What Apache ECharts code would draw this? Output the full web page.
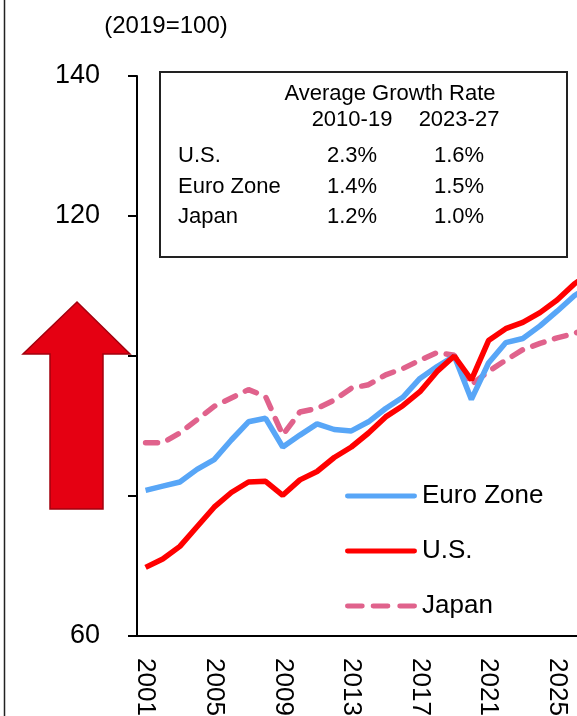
<!DOCTYPE html>
<html lang="en">
<head>
    <meta charset="utf-8" />
    <title>GDP index</title>
    <script src="https://cdn.jsdelivr.net/npm/echarts@6/dist/echarts.min.js"></script>
</head>
<body style="margin:0;background:#fff;overflow:hidden">
    <div id="container" style="width:577px;height:716px;"></div>
<script type="text/javascript">
    var years = [];
    for (var y = 2001; y <= 2027; y++) { years.push(String(y)); }

    var euroZone = [80.8, 81.4, 82.0, 83.8, 85.2, 88.0, 90.6, 91.1, 87.0, 88.7, 90.3, 89.5, 89.3, 90.6,
        92.5, 94.1, 96.8, 98.5, 100, 93.8, 99.0, 101.9, 102.5, 104.3, 106.4, 108.6, 110.2];
    var us = [69.8, 71.0, 72.8, 75.6, 78.4, 80.5, 82.0, 82.1, 80.1, 82.3, 83.5, 85.5, 87.0, 89.0,
        91.3, 92.9, 94.9, 97.8, 100, 96.6, 102.2, 103.9, 104.8, 106.2, 108.0, 110.3, 112.0];
    var japan = [87.6, 87.6, 89.0, 90.9, 92.8, 94.0, 95.2, 94.2, 88.7, 92.0, 92.5, 93.7, 95.4, 95.9,
        97.3, 98.2, 99.4, 100.5, 100.1, 95.9, 97.8, 99.4, 100.9, 101.8, 102.6, 103.2, 104.2];

    // growth-rate table
    var tableTitle = 'Average Growth Rate';
    var tablePeriods = ['2010-19', '2023-27'];
    var tableRows = ['U.S.', 'Euro Zone', 'Japan'];
    var rate1019 = ['2.3%', '1.4%', '1.2%'];
    var rate2327 = ['1.6%', '1.5%', '1.0%'];

    var font = '"Liberation Sans", Arial, sans-serif';

    var myChart = echarts.init(document.getElementById('container'));

    // table texts
    var tableEls = [{
        type: 'rect', shape: { x: 160, y: 72, width: 407, height: 185 },
        style: { fill: '#fff', stroke: '#222', lineWidth: 2 }
    }, {
        type: 'text', x: 390, y: 94,
        style: { text: tableTitle, font: '22px ' + font, fill: '#000', align: 'center', verticalAlign: 'middle' }
    }];
    var colX = [352, 459];
    var rowY = [156, 187, 217];
    tablePeriods.forEach(function (p, i) {
        tableEls.push({
            type: 'text', x: colX[i], y: 120,
            style: { text: p, font: '22px ' + font, fill: '#000', align: 'center', verticalAlign: 'middle' }
        });
    });
    tableRows.forEach(function (name, i) {
        tableEls.push({
            type: 'text', x: 178, y: rowY[i],
            style: { text: name, font: '22px ' + font, fill: '#000', align: 'left', verticalAlign: 'middle' }
        });
        tableEls.push({
            type: 'text', x: colX[0], y: rowY[i],
            style: { text: rate1019[i], font: '22px ' + font, fill: '#000', align: 'center', verticalAlign: 'middle' }
        });
        tableEls.push({
            type: 'text', x: colX[1], y: rowY[i],
            style: { text: rate2327[i], font: '22px ' + font, fill: '#000', align: 'center', verticalAlign: 'middle' }
        });
    });

    var solidIcon = 'path://M2,0H70A2,2 0 0 1 70,5H2A2,2 0 0 1 2,0Z';
    var dashIcon = 'path://M2,0H17A2,2 0 0 1 17,5H2A2,2 0 0 1 2,0Z M28,0H43A2,2 0 0 1 43,5H28A2,2 0 0 1 28,0Z M55,0H70A2,2 0 0 1 70,5H55A2,2 0 0 1 55,0Z';

    var option = {
        animation: false,
        backgroundColor: '#fff',
        textStyle: { fontFamily: font },
        grid: { left: 137, top: 76, width: 463, height: 560, containLabel: false, outerBoundsMode: 'none' },
        legend: {
            orient: 'vertical',
            left: 345,
            top: 483,
            padding: 0,
            itemWidth: 72,
            itemHeight: 6,
            itemGap: 29,
            data: [
                { name: 'Euro Zone', icon: solidIcon },
                { name: 'U.S.', icon: solidIcon },
                { name: 'Japan', icon: dashIcon }
            ],
            textStyle: { fontFamily: font, fontSize: 26, color: '#000' }
        },
        xAxis: {
            type: 'category',
            data: years,
            boundaryGap: true,
            axisLine: { lineStyle: { color: '#000', width: 2 } },
            axisTick: { show: false },
            axisLabel: {
                interval: 3,
                rotate: -90,
                margin: 22,
                fontSize: 26,
                color: '#000',
                fontFamily: font
            },
            splitLine: { show: false }
        },
        yAxis: {
            type: 'value',
            min: 60,
            max: 140,
            interval: 20,
            name: '(2019=100)',
            nameLocation: 'end',
            nameGap: 38,
            nameTextStyle: { fontSize: 24, color: '#000', fontFamily: font, align: 'center', padding: [0, 0, 0, 58] },
            axisLine: { show: true, lineStyle: { color: '#000', width: 2 } },
            axisTick: { show: true, length: 9, lineStyle: { color: '#000', width: 2 } },
            axisLabel: { margin: 37, fontSize: 27, color: '#000', fontFamily: font },
            splitLine: { show: false }
        },
        series: [{
            name: 'Euro Zone', type: 'line', data: euroZone, symbol: 'none',
            lineStyle: { color: '#58a6f7', width: 5.5 }, itemStyle: { color: '#58a6f7' }, z: 3
        }, {
            name: 'U.S.', type: 'line', data: us, symbol: 'none',
            lineStyle: { color: '#ff0000', width: 5.5 }, itemStyle: { color: '#ff0000' }, z: 4
        }, {
            name: 'Japan', type: 'line', data: japan, symbol: 'none',
            lineStyle: { color: '#e0628c', width: 5.5, type: [12, 11], cap: 'round' }, itemStyle: { color: '#e0628c' }, z: 2
        }],
        graphic: [{
            type: 'line', shape: { x1: 4.5, y1: 0, x2: 4.5, y2: 716 },
            style: { stroke: '#222', lineWidth: 1.5 }, z: 10
        }, {
            // big red arrow
            type: 'polygon',
            shape: { points: [[77, 302], [130, 354], [103, 354], [103, 509], [50, 509], [50, 354], [23, 354]] },
            style: { fill: '#e50012', stroke: '#a3000e', lineWidth: 1.5 }, z: 100
        }, {
            type: 'group', z: 50, children: tableEls
        }]
    };

    myChart.setOption(option, true);
</script>
</body>
</html>
